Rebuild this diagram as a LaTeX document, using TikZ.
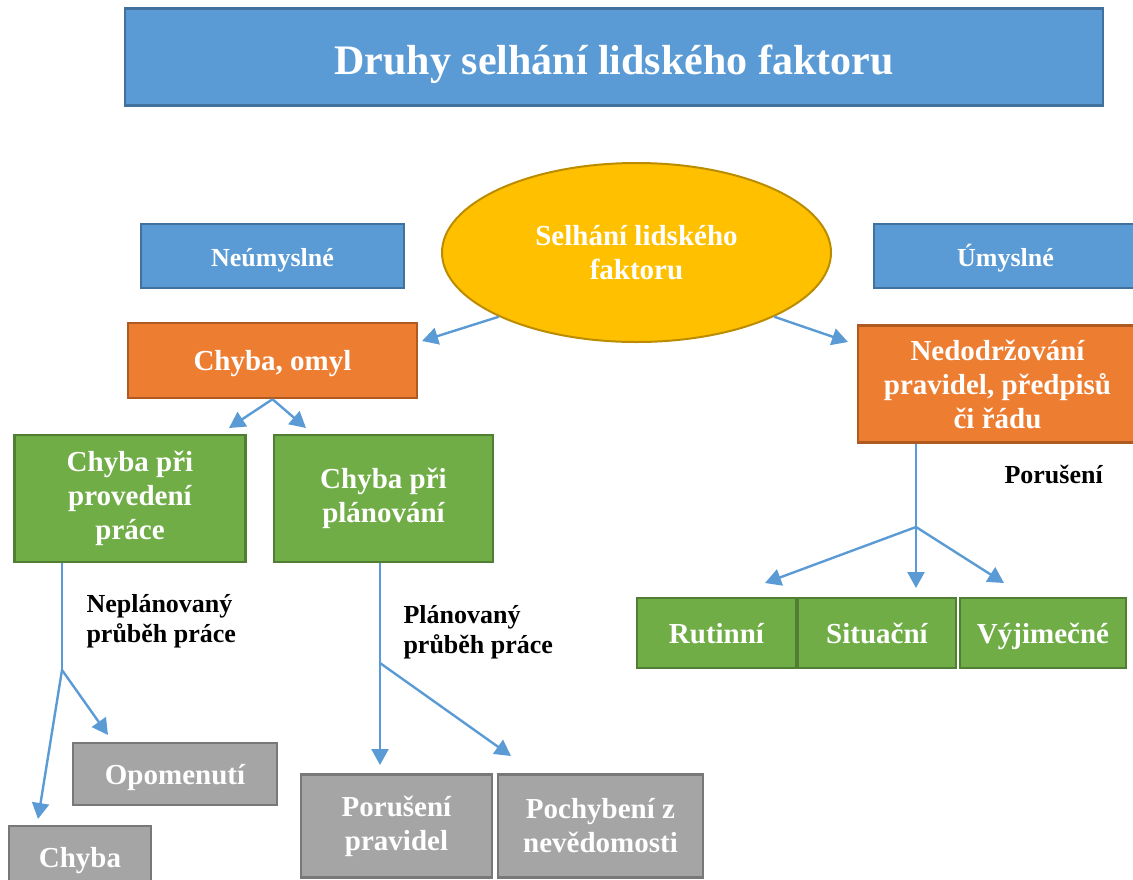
\documentclass[tikz,border=0pt]{standalone}
\usepackage{fontspec}
\setmainfont{Liberation Serif}
\usetikzlibrary{arrows.meta,shapes.geometric}

\definecolor{boxblue}{HTML}{5B9BD5}
\definecolor{edgeblue}{HTML}{41719C}
\definecolor{boxorange}{HTML}{ED7D31}
\definecolor{edgeorange}{HTML}{AE5A21}
\definecolor{boxgreen}{HTML}{70AD47}
\definecolor{edgegreen}{HTML}{507E32}
\definecolor{boxgray}{HTML}{A5A5A5}
\definecolor{edgegray}{HTML}{787878}
\definecolor{boxyellow}{HTML}{FFC000}
\definecolor{edgeyellow}{HTML}{BC8C00}

\tikzset{
  box/.style={draw, line width=2.4pt, inner sep=0pt, align=center, text=white,
    font=\bfseries\fontsize{29}{34}\selectfont},
  oneline/.style={text height=23pt, text depth=3pt},
  bluebox/.style={box, oneline, fill=boxblue, draw=edgeblue, font=\bfseries\fontsize{26}{30}\selectfont},
  orangebox/.style={box, fill=boxorange, draw=edgeorange},
  greenbox/.style={box, fill=boxgreen, draw=edgegreen},
  graybox/.style={box, fill=boxgray, draw=edgegray},
  lbl/.style={align=left, font=\bfseries\fontsize{26}{30}\selectfont},
  arr/.style={draw=boxblue, line width=2.4pt, -{Triangle[length=16pt,width=17pt]}},
  stem/.style={draw=boxblue, line width=1.3pt},
}

\begin{document}
\begin{tikzpicture}[x=1pt,y=-1pt]
    \useasboundingbox (0,0) rectangle (1133,879);
    \clip (0,0) rectangle (1133,879);

    % title and the two kinds
    \node[bluebox, minimum width=978pt, minimum height=97pt, text height=36pt, text depth=2pt,
      font=\bfseries\fontsize{42}{48}\selectfont] (title) at (614,57) {Druhy selhání lidského faktoru};
    \node[ellipse, draw=edgeyellow, fill=boxyellow, line width=2pt, minimum width=389pt,
      minimum height=179pt, inner sep=0pt, align=center, text=white,
      font=\bfseries\fontsize{29}{34}\selectfont] (selhani) at (636.5,252.5) {Selhání lidského\\faktoru};
    \node[bluebox, minimum width=263pt, minimum height=64pt] (neumysl) at (272.5,256) {Neúmyslné};
    \node[bluebox, minimum width=263pt, minimum height=64pt] (umysl) at (1005.5,256) {Úmyslné};

    \node[orangebox, oneline, minimum width=289pt, minimum height=75pt] (omyl) at (272.5,360.5) {Chyba, omyl};
    \node[orangebox, minimum width=279pt, minimum height=117pt] (nedodrz) at (997.5,384)
      {Nedodržování\\pravidel, předpisů\\či řádu};

    \node[greenbox, minimum width=231pt, minimum height=127pt] (provedeni) at (130,498.5) {Chyba při\\provedení\\práce};
    \node[greenbox, minimum width=219pt, minimum height=127pt] (planovani) at (383.5,498.5) {Chyba při\\plánování};
    \node[greenbox, oneline, minimum width=159pt, minimum height=70pt] (rutinni) at (716.5,633) {Rutinní};
    \node[greenbox, oneline, minimum width=158pt, minimum height=70pt] (situacni) at (877,633) {Situační};
    \node[greenbox, oneline, minimum width=166pt, minimum height=70pt] (vyjimecne) at (1043,633) {Výjimečné};

    \node[graybox, oneline, minimum width=204pt, minimum height=62pt] (opomenuti) at (175,774) {Opomenutí};
    \node[graybox, oneline, minimum width=142pt, minimum height=62pt] (chyba) at (80,857) {Chyba};
    \node[graybox, minimum width=191pt, minimum height=103pt] (poruseni) at (396.5,826) {Porušení\\pravidel};
    \node[graybox, minimum width=205pt, minimum height=103pt] (pochybeni) at (600.5,826) {Pochybení z\\nevědomosti};

    % labels beside the lines
    \node[lbl, anchor=west] (neplan) at (83,621) {Neplánovaný\\průběh práce};
    \node[lbl, anchor=west] (plan) at (400,632) {Plánovaný\\průběh práce};
    \node[lbl, anchor=base west] (porus) at (1001,483) {Porušení};

    % branch points and arrow ends
    \coordinate (jl) at (62,670);
    \coordinate (jm) at (380,663);
    \coordinate (jm2) at (380,704);
    \coordinate (jr) at (916,527);
    \coordinate (tomyl) at (422,341);
    \coordinate (tnedodrz) at (848,342);
    \coordinate (tprov) at (229,428);
    \coordinate (tplan) at (306,428);
    \coordinate (tchyba) at (38,819);
    \coordinate (topom) at (108,735);
    \coordinate (tporus) at (380,765);
    \coordinate (tpoch) at (511,756);
    \coordinate (trut) at (765,583);
    \coordinate (tsit) at (916,588);
    \coordinate (tvyj) at (1004,583);

    \draw[arr] (selhani.-155) -- (tomyl);
    \draw[arr] (selhani.-25) -- (tnedodrz);
    \draw[arr] (omyl.south) -- (tprov);
    \draw[arr] (omyl.south) -- (tplan);

    \draw[stem] (provedeni.south -| jl) -- (jl);
    \draw[arr] (jl) -- (tchyba);
    \draw[arr] (jl) -- (topom);

    \draw[stem] (planovani.south -| jm) -- (jm2);
    \draw[arr] (jm) -- (tpoch);
    \draw[arr] (jm2) -- (tporus);

    \draw[stem] (nedodrz.south -| jr) -- (jr);
    \draw[arr] (jr) -- (trut);
    \draw[arr] (jr) -- (tsit);
    \draw[arr] (jr) -- (tvyj);
\end{tikzpicture}
\end{document}
